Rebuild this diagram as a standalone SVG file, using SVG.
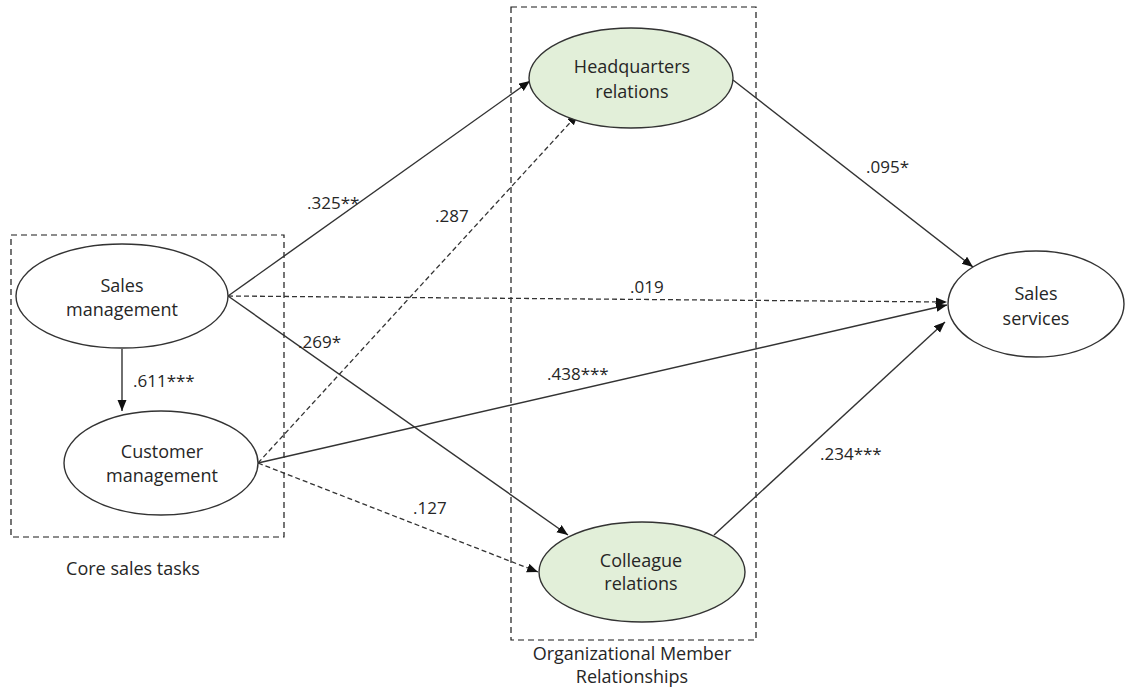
<svg xmlns="http://www.w3.org/2000/svg" width="1128" height="689" viewBox="0 0 1128 689">
<style>
.bg{fill:#ffffff}
.box{fill:none;stroke:#1a1a1a;stroke-width:1.2;stroke-dasharray:6,4}
.node{fill:#ffffff;stroke:#333333;stroke-width:1.4}
.green{fill:#e2efd9}
.t{font-family:"Open Sans","Liberation Sans",sans-serif;font-size:18px;fill:#262626;text-anchor:middle}
.lbl{font-family:"Open Sans","Liberation Sans",sans-serif;font-size:17px;fill:#262626}
.solid{fill:none;stroke:#333333;stroke-width:1.4}
.dash{fill:none;stroke:#333333;stroke-width:1.3;stroke-dasharray:5,3}
</style>
<defs>
<marker id="ah" markerUnits="userSpaceOnUse" markerWidth="12" markerHeight="10" refX="11" refY="4.5" orient="auto">
<path d="M0,0 L11,4.5 L0,9 z" fill="#111111" stroke="none"/>
</marker>
</defs>
<rect class="bg" x="0" y="0" width="1128" height="689"/>

<g id="group-core">
<rect class="box" x="11" y="235" width="273" height="302"/>
<text class="t" x="133" y="575">Core sales tasks</text>
</g>
<g id="group-org">
<rect class="box" x="511" y="7" width="245" height="633"/>
<text class="t" x="632" y="660">Organizational Member</text>
<text class="t" x="632" y="683">Relationships</text>
</g>

<g id="connectors">
<line class="solid" x1="122" y1="349" x2="122" y2="411" marker-end="url(#ah)"/>
<line class="solid" x1="228" y1="296" x2="530" y2="81" marker-end="url(#ah)"/>
<line class="dash" x1="258" y1="463" x2="578" y2="114" marker-end="url(#ah)"/>
<line class="dash" x1="228" y1="296" x2="947" y2="302" marker-end="url(#ah)"/>
<line class="solid" x1="228" y1="296" x2="568" y2="535" marker-end="url(#ah)"/>
<line class="dash" x1="258" y1="463" x2="538" y2="572" marker-end="url(#ah)"/>
<line class="solid" x1="258" y1="463" x2="947" y2="305" marker-end="url(#ah)"/>
<line class="solid" x1="714" y1="535" x2="945" y2="322" marker-end="url(#ah)"/>
<line class="solid" x1="733" y1="80" x2="973" y2="267" marker-end="url(#ah)"/>
<text class="lbl" x="133" y="387">.611***</text>
<text class="lbl" x="307" y="209">.325**</text>
<text class="lbl" x="435" y="222">.287</text>
<text class="lbl" x="630" y="293">.019</text>
<text class="lbl" x="298" y="348">.269*</text>
<text class="lbl" x="547" y="380">.438***</text>
<text class="lbl" x="413" y="514">.127</text>
<text class="lbl" x="820" y="460">.234***</text>
<text class="lbl" x="866" y="173">.095*</text>
</g>

<g id="node-sales-management">
<ellipse class="node" cx="122" cy="296" rx="106" ry="52"/>
<text class="t" x="122" y="292">Sales</text>
<text class="t" x="122" y="316">management</text>
</g>
<g id="node-customer-management">
<ellipse class="node" cx="161" cy="463" rx="97" ry="52"/>
<text class="t" x="162" y="458">Customer</text>
<text class="t" x="162" y="482">management</text>
</g>
<g id="node-headquarters">
<ellipse class="node green" cx="631" cy="78" rx="102" ry="50"/>
<text class="t" x="632" y="73">Headquarters</text>
<text class="t" x="632" y="98">relations</text>
</g>
<g id="node-colleague">
<ellipse class="node green" cx="642" cy="572" rx="103" ry="50"/>
<text class="t" x="641" y="567">Colleague</text>
<text class="t" x="641" y="590">relations</text>
</g>
<g id="node-sales-services">
<ellipse class="node" cx="1036" cy="304" rx="88" ry="53"/>
<text class="t" x="1036" y="300">Sales</text>
<text class="t" x="1036" y="325">services</text>
</g>
</svg>
